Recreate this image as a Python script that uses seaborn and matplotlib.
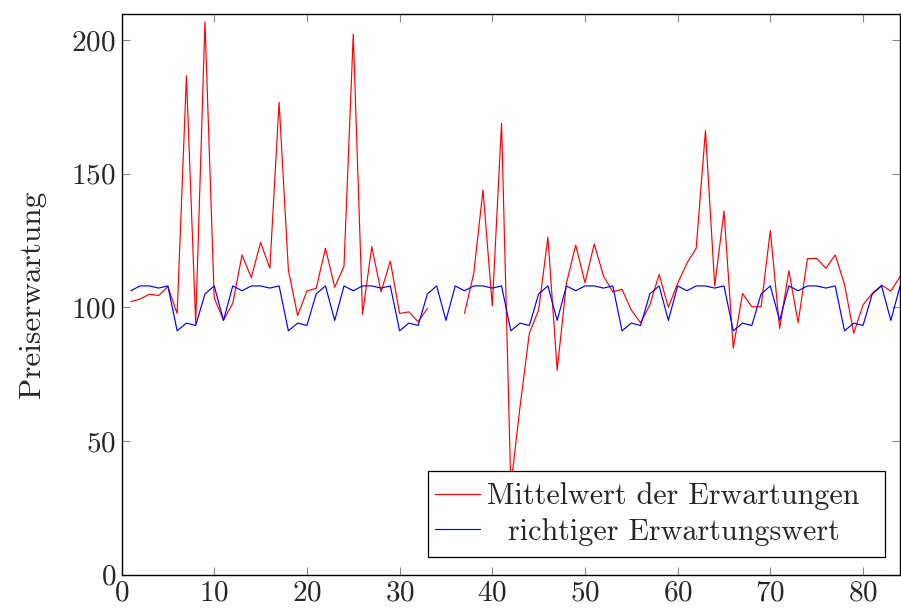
import numpy as np
import pandas as pd
import matplotlib
matplotlib.use("Agg")
import matplotlib.pyplot as plt
from matplotlib.patches import Rectangle
from matplotlib.transforms import Affine2D
import seaborn as sns

# mean of the expectations (gap at 34-36)
x_vals = list(range(1, 85))
mittelwert = [
    102.1, 103.1, 104.9, 104.4, 107.7, 97.7, 186.6, 94.0, 206.8, 103.4,
    95.2, 101.5, 119.6, 111.1, 124.3, 114.6, 176.7, 113.9, 96.9, 106.1,
    107.1, 122.1, 107.5, 115.4, 202.2, 97.4, 122.7, 105.8, 117.3, 97.7,
    98.3, 94.6, 99.6, np.nan, np.nan, np.nan, 97.7, 112.7, 143.9, 100.5,
    168.8, 33.0, 63.0, 90.3, 99.0, 126.2, 76.5, 109.0, 123.3, 109.2,
    123.7, 111.7, 105.8, 106.7, 99.0, 94.2, 100.9, 112.3, 100.0, 109.0,
    116.5, 122.1, 166.1, 108.0, 136.0, 84.7, 105.2, 100.2, 100.2, 128.7,
    92.1, 113.7, 94.2, 118.2, 118.3, 114.6, 119.6, 108.6, 90.3, 100.9,
    105.2, 108.3, 106.1, 111.5,
]
# true expected value
richtig = [
    106.2, 108.0, 108.0, 107.2, 108.0, 91.2, 94.1, 93.2, 105.0, 108.0, 95.1, 108.0,
    106.2, 108.0, 108.0, 107.2, 108.0, 91.2, 94.1, 93.2, 105.0, 108.0, 95.1, 108.0,
    106.2, 108.0, 108.0, 107.2, 108.0, 91.2, 94.1, 93.2, 105.0, 108.0, 95.1, 108.0,
    106.2, 108.0, 108.0, 107.2, 108.0, 91.2, 94.1, 93.2, 105.0, 108.0, 95.1, 108.0,
    106.2, 108.0, 108.0, 107.2, 108.0, 91.2, 94.1, 93.2, 105.0, 108.0, 95.1, 108.0,
    106.2, 108.0, 108.0, 107.2, 108.0, 91.2, 94.1, 93.2, 105.0, 108.0, 95.1, 108.0,
    106.2, 108.0, 108.0, 107.2, 108.0, 91.2, 94.1, 93.2, 105.0, 108.0, 95.1, 108.0,
]
labels = ["Mittelwert der Erwartungen", "richtiger Erwartungswert"]
x_ticks = [0, 10, 20, 30, 40, 50, 60, 70, 80]
y_ticks = [0, 50, 100, 150, 200]

sns.set_theme(style="ticks")
plt.rcParams["font.family"] = ["cmr10", "DejaVu Serif"]
plt.rcParams["mathtext.fontset"] = "cm"
plt.rcParams["axes.formatter.use_mathtext"] = True

# long table; split the red series into segments so the gap stays open
rows = []
seg = 0
prev_nan = False
for x, v in zip(x_vals, mittelwert):
    if np.isnan(v):
        if not prev_nan:
            seg += 1
        prev_nan = True
        continue
    prev_nan = False
    rows.append({"x": x, "y": v, "series": labels[0], "seg": seg})
for x, v in zip(x_vals, richtig):
    rows.append({"x": x, "y": v, "series": labels[1], "seg": 100})
df = pd.DataFrame(rows)

fig = plt.figure(figsize=(9.01, 6.12), dpi=100)
ax = fig.add_axes([0.1349, 0.0611, 0.8641, 0.9159])

sns.lineplot(data=df, x="x", y="y", hue="series", units="seg", estimator=None,
             palette={labels[0]: "#ff0000", labels[1]: "#0000ff"},
             linewidth=0.85, ax=ax, legend=False)

ax.set_xlim(0, 84)
ax.set_ylim(0, 209.7)
ax.set_xticks(x_ticks)
ax.set_yticks(y_ticks)
ax.set_xlabel("")
ax.set_ylabel("Preiserwartung", fontsize=22.5, labelpad=18)
ax.tick_params(direction="in", length=6, width=0.8, color="#888888",
               top=True, right=True, labelsize=21, pad=4)
for s in ax.spines.values():
    s.set_color("black")
    s.set_linewidth(1.0)
    s.set_visible(True)

# legend box drawn separately (pgfplots style: wider right padding)
box = Rectangle((0.3937, 0.0314), 0.587, 0.1534, transform=ax.transAxes,
                facecolor="white", edgecolor="black", linewidth=0.9, zorder=4.5)
ax.add_patch(box)

handles = [plt.Line2D([], [], color="#ff0000", lw=0.85),
           plt.Line2D([], [], color="#0000ff", lw=0.85)]
leg = ax.legend(handles, labels, loc="center", bbox_to_anchor=(0.675, 0.108),
                fontsize=21.7, frameon=False, handlelength=1.5, handletextpad=0.25,
                borderpad=0, labelspacing=0.25, borderaxespad=0)
leg.set_zorder(5)

# center the label texts against each other like the pgfplots legend
fig.canvas.draw()
r = fig.canvas.get_renderer()
texts = leg.get_texts()
widths = [t.get_window_extent(r).width for t in texts]
wmax = max(widths)
for t, w in zip(texts, widths):
    dx = (wmax - w) / 2
    t.set_transform(t.get_transform() + Affine2D().translate(dx, 0))

fig.savefig("out.png", dpi=100)
